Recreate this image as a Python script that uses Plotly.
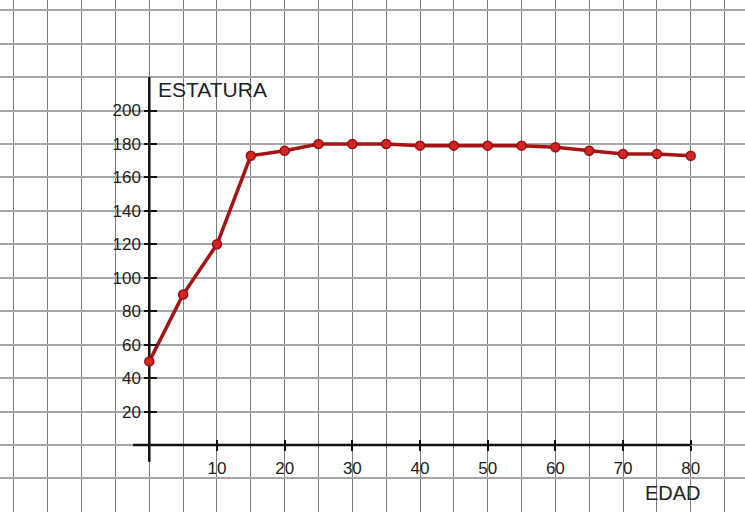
import plotly.graph_objects as go

# Data
edad = [0, 5, 10, 15, 20, 25, 30, 35, 40, 45, 50, 55, 60, 65, 70, 75, 80]
estatura = [50, 90, 120, 173, 176, 180, 180, 180, 179, 179, 179, 179, 178, 176, 174, 174, 173]

x_tick_vals = [10, 20, 30, 40, 50, 60, 70, 80]
y_tick_vals = [20, 40, 60, 80, 100, 120, 140, 160, 180, 200]

X_RANGE = [-22.06, 88.02]
Y_RANGE = [-40.06, 266.1]
X_AXIS_POS = 1 - 445 / 512      # paper y where y = 0
Y_AXIS_POS = 149.3 / 745        # paper x where x = 0

FONT = "Liberation Sans, Arial, sans-serif"
TXT = "#222222"

fig = go.Figure()

# invisible carrier traces so the overlaid tick axes get drawn
for xa, ya in [("x2", "y"), ("x3", "y"), ("x", "y2"), ("x", "y3")]:
    fig.add_trace(go.Scatter(x=edad, y=estatura, xaxis=xa, yaxis=ya,
                             mode="markers", marker=dict(opacity=0),
                             showlegend=False, hoverinfo="skip"))

fig.add_trace(go.Scatter(
    x=edad, y=estatura, mode="lines+markers",
    line=dict(color="#a31414", width=3.5),
    marker=dict(size=9, color="#d42424", line=dict(color="#921010", width=1.5)),
    showlegend=False, hoverinfo="x+y",
))

# axis lines (drawn between grid and traces)
fig.add_shape(type="line", xref="x", yref="y", x0=-2.4, x1=80, y0=0, y1=0,
              line=dict(color="#111", width=2.5), layer="between")
fig.add_shape(type="line", xref="x", yref="y", x0=0, x1=0, y0=-10, y1=220,
              line=dict(color="#111", width=2.5), layer="between")

common_tick = dict(ticklen=5, tickwidth=2, tickcolor="#111", showgrid=False,
                   zeroline=False, showline=False, fixedrange=True)

fig.update_layout(
    width=745, height=512,
    margin=dict(l=0, r=0, t=0, b=0),
    paper_bgcolor="white", plot_bgcolor="white",
    xaxis=dict(range=X_RANGE, tick0=0, dtick=5, showgrid=True,
               gridcolor="#7c7c7c", gridwidth=1, showticklabels=False,
               ticks="", zeroline=False, showline=False, fixedrange=True),
    yaxis=dict(range=Y_RANGE, tick0=0, dtick=20, showgrid=True,
               gridcolor="#a6a6a6", gridwidth=2, showticklabels=False,
               ticks="", zeroline=False, showline=False, fixedrange=True),
    xaxis2=dict(overlaying="x", anchor="free", position=X_AXIS_POS,
                range=X_RANGE, tickmode="array", tickvals=x_tick_vals,
                ticks="outside", showticklabels=True,
                tickfont=dict(family=FONT, size=17, color=TXT),
                ticklabelstandoff=3, **common_tick),
    xaxis3=dict(overlaying="x", anchor="free", position=X_AXIS_POS,
                range=X_RANGE, tickmode="array", tickvals=x_tick_vals,
                ticks="inside", showticklabels=False, **common_tick),
    yaxis2=dict(overlaying="y", anchor="free", position=Y_AXIS_POS,
                range=Y_RANGE, tickmode="array", tickvals=y_tick_vals,
                ticks="outside", showticklabels=True,
                tickfont=dict(family=FONT, size=17, color=TXT),
                **common_tick),
    yaxis3=dict(overlaying="y", anchor="free", position=Y_AXIS_POS,
                range=Y_RANGE, tickmode="array", tickvals=y_tick_vals,
                ticks="inside", showticklabels=False, **dict(common_tick, ticklen=7)),
    annotations=[
        dict(text="ESTATURA", xref="x", yref="y", x=1.0, y=212.5,
             xanchor="left", yanchor="middle", showarrow=False,
             font=dict(family=FONT, size=21, color=TXT)),
        dict(text="EDAD", xref="x", yref="y", x=77.4, y=-28.7,
             xanchor="center", yanchor="middle", showarrow=False,
             font=dict(family=FONT, size=20, color=TXT)),
    ],
)

fig.write_html("out.html", config={"displayModeBar": False},
               post_script="document.body.style.margin='0px';document.body.style.padding='0px';")
